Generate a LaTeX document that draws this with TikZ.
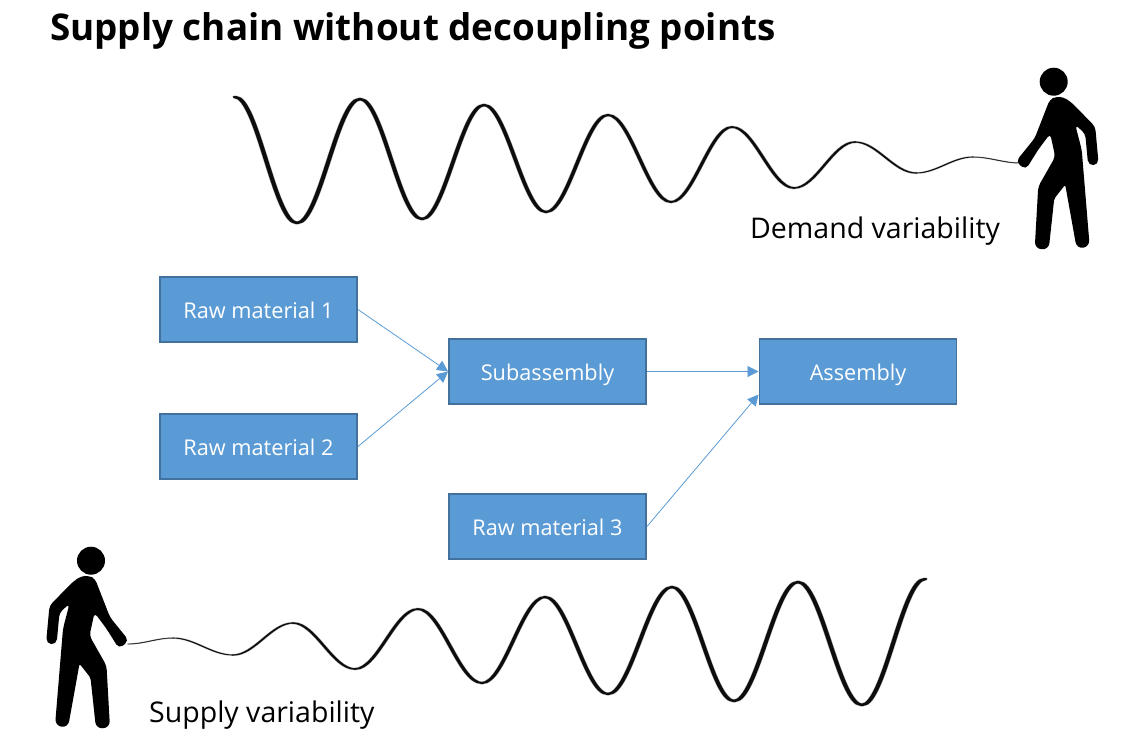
\documentclass[tikz,border=0pt]{standalone}
\usepackage{fontspec}
\setmainfont{Open Sans}
\usetikzlibrary{arrows.meta}
\definecolor{boxblue}{HTML}{5B9BD5}
\definecolor{boxedge}{HTML}{41719C}

% one half wave from (\xa,\ya) to (\xb,\yb), thick on the slope and thin at the turns
\newcommand{\wavepiece}[2]{%
    \pgfmathsetmacro{\hw}{0.3*\lw}
    \pgfmathsetmacro{\sw}{0.45*\lw+#1}
    \filldraw[#2,line width=\sw pt,line join=round]
        ({\xa-\hw},\ya) .. controls ({\xa-\hw+0.36*(\xb-\xa)},\ya) and ({\xb-\hw-0.36*(\xb-\xa)},\yb) .. ({\xb-\hw},\yb)
        -- ({\xb+\hw},\yb) .. controls ({\xb+\hw-0.36*(\xb-\xa)},\yb) and ({\xa+\hw+0.36*(\xb-\xa)},\ya) .. ({\xa+\hw},\ya) -- cycle;
}
\newcommand{\demandwave}{297/223/4.0,360/99/4.0,422/219/3.8,484/105/3.7,546/212/3.6,608/115/3.5,671/202/3.3,
         732/127/3.1,794/188/2.9,855/142/2.5,916/173/2.0,973/157/1.4,1020/163/0.9}
\newcommand{\supplywave}{173/638/0.9,233/655/1.4,293/623/2.0,355/669/2.6,418/609/3.0,482/683/3.3,545/597/3.4,
         608/694/3.6,672/587/3.7,734/701/3.8,798/582/3.9,862/705/4.0,925/579/4.0}

\begin{document}
\begin{tikzpicture}[x=1pt,y=-1pt,>={Triangle[length=11pt,width=11pt]},
    stepbox/.style={draw=boxedge,line width=1.9pt,fill=boxblue,text=white,
        minimum width=197pt,minimum height=65pt,inner sep=0pt,text height=22pt,text depth=4pt,
        font=\fontsize{21.7}{25}\selectfont},
    link/.style={->,boxblue,line width=0.8pt},
    caption/.style={anchor=base west,inner sep=0pt,font=\fontsize{28.5}{34}\selectfont},
    person/.pic={
        \fill (0,0) circle (14);
        \fill[rounded corners=4pt] (-4,18) -- (2,15) -- (10,15.5) -- (18,21) -- (41.5,45)
            [rounded corners=5.5pt] -- (45,83) -- (34.5,84) [rounded corners=4pt]
            -- (31.5,52) -- (21.5,43) -- (28,68)
            [rounded corners=6.5pt] -- (36,165) -- (23,167) [rounded corners=2pt]
            -- (11.5,103) -- (0.5,117)
            [rounded corners=6.5pt] -- (-5,168) -- (-19,167) [rounded corners=4pt]
            -- (-15.5,105) -- (1.5,75) -- (-3.5,52) -- (-15.5,68)
            [rounded corners=5pt] -- (-28,88) -- (-38,80) [rounded corners=4pt] -- (-19,56.5) -- cycle;
    }]
    \useasboundingbox (0,0) rectangle (1123,748);

    \node[caption,font=\fontsize{36.8}{44}\selectfont\bfseries] (title) at (50,40) {Supply chain without decoupling points};
    \node[caption] (demand) at (750,238) {Demand variability};
    \node[caption] (supply) at (149,722) {Supply variability};

    % soft edge first, then the dark core
    \foreach \extra/\shade in {1.0/black!35,0/black!95}{
        \foreach \xb/\yb/\lw [remember=\xb as \xa (initially 235),remember=\yb as \ya (initially 97)] in \demandwave
            {\wavepiece{\extra}{\shade}}
        \foreach \xb/\yb/\lw [remember=\xb as \xa (initially 128),remember=\yb as \ya (initially 644)] in \supplywave
            {\wavepiece{\extra}{\shade}}
    }

    \pic at (1053.7,81.7) {person};
    \pic[xscale=-1] at (91,560.7) {person};

    \node[stepbox] (raw1) at (258.5,309.5) {Raw material 1};
    \node[stepbox] (raw2) at (258.5,446.5) {Raw material 2};
    \node[stepbox] (sub) at (547.5,371.5) {Subassembly};
    \node[stepbox] (asm) at (858,371.5) {Assembly};
    \node[stepbox] (raw3) at (547.5,526.5) {Raw material 3};

    \draw[link] (raw1.east) -- (sub.west);
    \draw[link] (raw2.east) -- (sub.west);
    \draw[link] (sub.east) -- (asm.west);
    \draw[link] (raw3.east) -- ([yshift=-23pt]asm.west);
\end{tikzpicture}
\end{document}
